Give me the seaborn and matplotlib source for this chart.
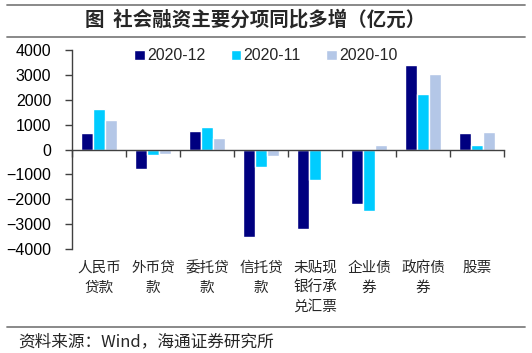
import pandas as pd
import matplotlib.pyplot as plt
import matplotlib.transforms as mtransforms
import seaborn as sns

# 数据（亿元）
categories = ['人民币\n贷款', '外币贷\n款', '委托贷\n款', '信托贷\n款',
              '未贴现\n银行承\n兑汇票', '企业债\n券', '政府债\n券', '股票']
series = ['2020-12', '2020-11', '2020-10']
v_2020_12 = [650, -770, 740, -3510, -3200, -2200, 3390, 650]
v_2020_11 = [1640, -210, 920, -710, -1230, -2480, 2250, 200]
v_2020_10 = [1170, -190, 470, -270, 0, 190, 3020, 700]
colors = ['#000080', '#00CCFF', '#B4C7E7']

df = pd.DataFrame({
    'cat': categories * 3,
    'series': [s for s in series for _ in categories],
    'value': v_2020_12 + v_2020_11 + v_2020_10,
})

sns.set_style('white')
plt.rcParams['font.family'] = ['Liberation Sans', 'Noto Sans CJK SC', 'DejaVu Sans']
cjk = ['Noto Sans CJK SC', 'DejaVu Sans']

fig = plt.figure(figsize=(5.32, 3.53), dpi=100)
ax = fig.add_axes([72/532, 1-249/353, 432/532, 199/353])

sns.barplot(data=df, x='cat', y='value', hue='series', hue_order=series,
            palette=colors, width=0.67, saturation=1, ax=ax, legend=True)

ax.set_ylim(-4000, 4000)
ax.set_xlim(-0.5, len(categories) - 0.5)
ax.set_yticks(range(-4000, 4001, 1000))
ax.tick_params(axis='y', labelsize=11.5, length=5, direction='out', width=1,
               left=True, pad=10, colors='#404040', labelcolor='black')
ax.set_xlabel('')
ax.set_ylabel('')

# x轴放在0处，刻度在类别之间
ax.spines['top'].set_visible(False)
ax.spines['right'].set_visible(False)
ax.spines['bottom'].set_position(('data', 0))
for s in ['left', 'bottom']:
    ax.spines[s].set_color('#404040')
    ax.spines[s].set_linewidth(1)
ax.set_xticks([i - 0.5 for i in range(len(categories) + 1)])
ax.set_xticklabels([])
ax.tick_params(axis='x', length=5, direction='out', width=1, bottom=True, colors='#404040')

# 类别标签放在底部
trans = mtransforms.blended_transform_factory(ax.transData, fig.transFigure)
for i, c in enumerate(categories):
    ax.text(i, 1 - 261/353, c, transform=trans, ha='center', va='top',
            fontsize=10.5, family=cjk, linespacing=1.5)

leg = ax.legend(loc='center', bbox_to_anchor=(0.449, 0.97), ncol=3, frameon=False,
                fontsize=11.5, handlelength=0.65, handleheight=0.65, handletextpad=0.15,
                columnspacing=1.6)

# 标题和分隔线
fig.text(0.48, 1 - 20/353, '图  社会融资主要分项同比多增（亿元）', ha='center', va='center',
         fontsize=14, family=cjk, fontweight='bold')
for y in [4.5, 37, 326.5]:
    fig.add_artist(plt.Line2D([7/532, 525/532], [1 - y/353] * 2, color='#808080', lw=1.3))
fig.text(18/532, 1 - 342/353, '资料来源：Wind，海通证券研究所', ha='left', va='center',
         fontsize=12, family=cjk)

fig.savefig('out.png', dpi=100)
